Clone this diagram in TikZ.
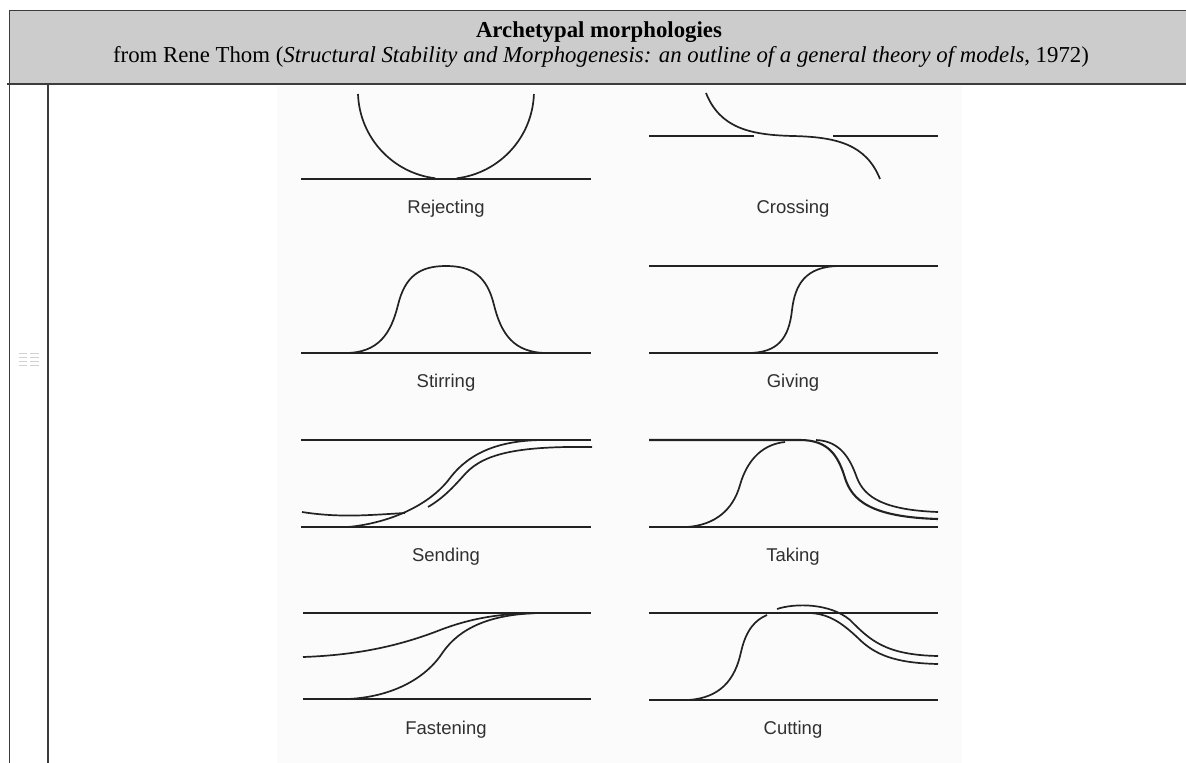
\documentclass[tikz,border=0pt]{standalone}
\usepackage{fontspec}
\setmainfont{Liberation Serif}
\newfontfamily\labelfont{Liberation Sans}
\usetikzlibrary{positioning}
\definecolor{ink}{HTML}{222222}
\definecolor{frame}{HTML}{3C3C3C}
\definecolor{headgray}{HTML}{CCCCCC}
\definecolor{paper}{HTML}{FBFBFB}
\definecolor{muted}{HTML}{303030}

\begin{document}
\begin{tikzpicture}[
  x=1pt,y=-1pt,
  border/.style={draw=frame,line width=1.1pt},
  rail/.style={draw=ink,line width=2.1pt},
  wave/.style={draw=ink,line width=1.7pt},
  caption/.style={anchor=base,text=muted,font=\labelfont\fontsize{18.5}{20}\selectfont,inner sep=0pt},
  heading/.style={anchor=base,inner sep=0pt,font=\fontsize{22.8}{26}\selectfont}
]
\useasboundingbox (0,0) rectangle (1186,763);
% table frame and header
\fill[white] (0,0) rectangle (1186,763);
\fill[headgray] (9.5,10.7) rectangle (1186,84);
\draw[border] (9.5,763) -- (9.5,10.7) -- (1186,10.7);
\draw[border] (7,84) -- (1186,84);
\draw[border] (48,84) -- (48,763);
\node[heading,font=\bfseries\fontsize{22.8}{26}\selectfont] (title) at (599,37) {Archetypal morphologies};
\node[heading] (source) at (601,62) {from Rene Thom (\textit{Structural Stability and Morphogenesis: an outline of a general theory of models}, 1972)};
% thumbnail in the narrow column
\foreach \ty in {353,357,361,365} {
  \draw[gray!35,line width=0.4pt] (19,\ty) -- (27,\ty) (30,\ty) -- (39,\ty);
}
% the picture itself
\fill[paper] (277,85.5) rectangle (962,763);

% Rejecting
\draw[rail] (301,179) -- (591,179);
\draw[wave] (358,94) arc[start angle=178,end angle=97,radius=88];
\draw[wave] (456.7,178.3) arc[start angle=83,end angle=2,radius=88];
\node[caption] (reject) at (446,213) {Rejecting};

% Crossing
\draw[rail] (649,136) -- (754,136) (833,136) -- (938,136);
\draw[wave] (706,93) .. controls (720,128) and (750,135) .. (793,136)
  .. controls (836,137) and (866,144) .. (880,179);
\node[caption] (cross) at (793,213) {Crossing};

% Stirring
\draw[rail] (301,353) -- (591,353);
\draw[wave] (345,353) .. controls (379,353) and (391,333) .. (398,305)
  .. controls (405,276) and (420,266) .. (446,266)
  .. controls (472,266) and (487,276) .. (494,305)
  .. controls (501,333) and (513,353) .. (547,353);
\node[caption] (stir) at (446,387) {Stirring};

% Giving
\draw[rail] (649,266) -- (938,266) (649,353) -- (938,353);
\draw[wave] (748,353) .. controls (778,353) and (789,338) .. (792,310)
  .. controls (795,285) and (805,266) .. (840,266);
\node[caption] (give) at (793,387) {Giving};

% Sending
\draw[rail] (301,440) -- (591,440) (301,527) -- (591,527);
\draw[wave] (348,527) .. controls (390,523) and (430,505) .. (450,478)
  .. controls (470,452) and (500,440) .. (545,440);
\draw[wave] (428,507) .. controls (445,497) and (455,485) .. (466,473)
  .. controls (485,453) and (520,446) .. (592,447);
\draw[wave] (302,512) .. controls (340,518) and (370,515) .. (405,513);
\node[caption] (send) at (446,561) {Sending};

% Taking
\draw[rail] (649,527) -- (938,527);
\draw[rail] (649,440) -- (800,440) .. controls (828,440) and (838,455) .. (845,478)
  .. controls (852,500) and (870,517) .. (938,519);
\draw[wave] (816,440) .. controls (840,441) and (850,458) .. (857,478)
  .. controls (865,498) and (885,510) .. (938,512);
\draw[wave] (687,527) .. controls (715,525) and (733,510) .. (740,485)
  .. controls (748,457) and (765,444) .. (785,442);
\node[caption] (take) at (793,561) {Taking};

% Fastening
\draw[rail] (303,613) -- (591,613) (303,699) -- (591,699);
\draw[wave] (303,657) .. controls (360,655) and (400,645) .. (435,632)
  .. controls (470,618) and (500,613) .. (545,613);
\draw[wave] (348,699) .. controls (390,697) and (425,680) .. (443,652)
  .. controls (460,628) and (490,614) .. (540,613);
\node[caption] (fasten) at (446,734) {Fastening};

% Cutting
\draw[rail] (649,613) -- (938,613) (649,700) -- (938,700);
\draw[wave] (688,700) .. controls (720,698) and (735,680) .. (741,652)
  .. controls (746,630) and (755,620) .. (767,615);
\draw[wave] (777,609) .. controls (795,603) and (830,603) .. (850,620)
  .. controls (870,640) and (885,655) .. (938,656);
\draw[wave] (810,613) .. controls (830,614) and (843,624) .. (858,638)
  .. controls (875,655) and (895,663) .. (938,664);
\node[caption] (cut) at (793,734) {Cutting};
\end{tikzpicture}
\end{document}
